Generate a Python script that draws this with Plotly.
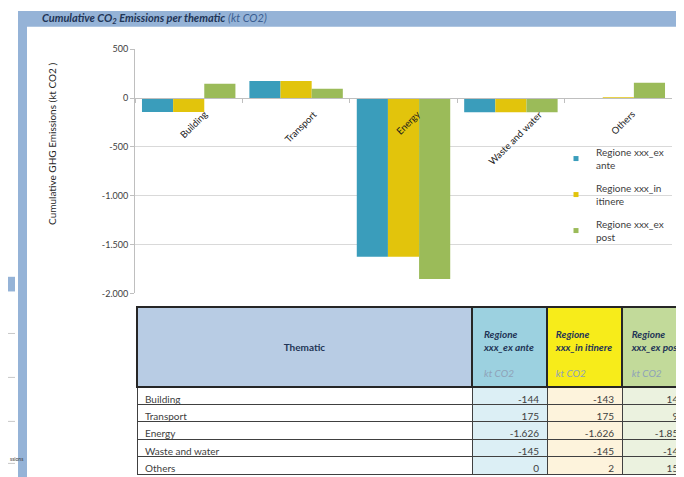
import plotly.graph_objects as go

# ---------------- data ----------------
categories = ["Building", "Transport", "Energy", "Waste and water", "Others"]
series_names = ["Regione xxx_ex ante", "Regione xxx_in itinere", "Regione xxx_ex post"]
legend_labels = ["Regione xxx_ex<br>ante", "Regione xxx_in<br>itinere", "Regione xxx_ex<br>post"]
ex_ante = [-144, 175, -1626, -145, 0]
in_itinere = [-143, 175, -1626, -145, 2]
ex_post = [145, 95, -1853, -145, 155]
y_tick_vals = [500, 0, -500, -1000, -1500, -2000]
y_tick_text = ["500", "0", "-500", "-1.000", "-1.500", "-2.000"]
table_header_thematic = "Thematic"
table_unit = "kt CO2"
chart_title = "Cumulative CO<sub>2</sub> Emissions per thematic"
chart_title_unit = "(kt CO2)"
y_title = "Cumulative GHG Emissions (kt CO2 )"

# ---------------- styling ----------------
W, H = 684, 477
OFF = 8  # page body margin offset
FONT = "Lato"
bar_colors = ["#3A9DBB", "#E2C40C", "#9BBB59"]
head_fills = ["#B8CCE4", "#9CD1E0", "#F7EC1A", "#C2DA9A"]
cell_fills = ["#FFFFFF", "#DCEFF5", "#FDF3DC", "#EBF2DF"]
frame_blue = "#95B3D7"


def px(x):
    return (x - OFF) / W


def py(y):
    return 1 - (y - OFF) / H


def fmt(v):
    s = f"{abs(v):,}".replace(",", ".")
    return ("-" if v < 0 else "") + s


def spacer(color):
    # invisible placeholder line (same colour as the cell fill)
    return f"<span style='color:{color}'>.</span>"


series_values = [ex_ante, in_itinere, ex_post]

fig = go.Figure()

# bars
for name, vals, col in zip(series_names, series_values, bar_colors):
    fig.add_trace(go.Bar(x=categories, y=vals, name=name, marker_color=col,
                         marker_line_width=0, showlegend=False))

# legend entries (small square markers like Excel)
for i, (lab, col) in enumerate(zip(legend_labels, bar_colors)):
    fig.add_trace(go.Scatter(x=[None], y=[None], mode="markers", name=lab,
                             legendgroup=f"g{i}",
                             marker=dict(symbol="square", size=5, color=col)))

ymin, ymax = -2000, 500
dom_y = [py(294), py(44)]
dom_x = [px(135), px(672)]
zero_pos = dom_y[0] + (0 - ymin) / (ymax - ymin) * (dom_y[1] - dom_y[0])

fig.update_layout(
    width=W, height=H,
    margin=dict(l=0, r=0, t=0, b=0),
    paper_bgcolor="white", plot_bgcolor="white",
    font=dict(family=FONT, size=9, color="#404040"),
    barmode="group", bargap=0.13, bargroupgap=0,
    xaxis=dict(domain=dom_x, anchor="free", position=zero_pos,
               showline=True, linecolor="#BFBFBF", linewidth=1,
               ticks="outside", tickson="boundaries", ticklen=4,
               tickcolor="#BFBFBF", showticklabels=False,
               showgrid=False, fixedrange=True),
    yaxis=dict(domain=dom_y, range=[ymin, ymax], tickvals=y_tick_vals,
               ticktext=y_tick_text, showline=True, linecolor="#BFBFBF",
               ticks="outside", ticklen=4, tickcolor="#BFBFBF",
               gridcolor="#D9D9D9", zeroline=False,
               tickfont=dict(family=FONT, size=9, color="#404040")),
    legend=dict(x=px(556), y=py(136), xanchor="left", yanchor="top",
                bgcolor="rgba(0,0,0,0)", font=dict(family=FONT, size=10, color="#404040"),
                tracegroupgap=7, traceorder="grouped"),
)

# category labels, Excel-style: rotated and centred under each category
for cat in categories:
    fig.add_annotation(xref="x", yref="y", x=cat, y=0, xanchor="center",
                       yanchor="top", showarrow=False, textangle=-45,
                       xshift=5, yshift=-8, text=cat,
                       font=dict(family=FONT, size=9.5, color="#1A1A1A"))

# frame: title bar and left strip
fig.add_shape(type="rect", xref="paper", yref="paper",
              x0=px(18), x1=1, y0=py(21), y1=py(5),
              fillcolor=frame_blue, line_width=0, layer="below")
fig.add_shape(type="rect", xref="paper", yref="paper",
              x0=px(18), x1=px(27), y0=0, y1=py(5),
              fillcolor=frame_blue, line_width=0, layer="below")
# spreadsheet remnants on far left
fig.add_shape(type="rect", xref="paper", yref="paper",
              x0=px(0), x1=px(15), y0=py(292), y1=py(277),
              fillcolor=frame_blue, line_width=0, layer="below")
for yy in (335, 380, 425, 468):
    fig.add_shape(type="line", xref="paper", yref="paper",
                  x0=px(0), x1=px(15), y0=py(yy), y1=py(yy),
                  line=dict(color="#C8C8C8", width=1))
fig.add_annotation(xref="paper", yref="paper", x=px(8), y=py(463), xanchor="left",
                   yanchor="middle", showarrow=False, text="ssions",
                   font=dict(family=FONT, size=5, color="#404040"))

# title
fig.add_annotation(xref="paper", yref="paper", x=px(40), y=py(13),
                   xanchor="left", yanchor="middle", showarrow=False,
                   text=f"<b><i>{chart_title}</i></b> "
                        f"<span style='color:#3B5E91'><i>{chart_title_unit}</i></span>",
                   font=dict(family=FONT, size=11, color="#1F3556"))

# y-axis title
fig.add_annotation(xref="paper", yref="paper", x=px(52), y=py(141),
                   xanchor="center", yanchor="middle", showarrow=False,
                   textangle=-90, text=y_title,
                   font=dict(family=FONT, size=10, color="#262626"))

# table
unit_span = f"<span style='color:#8FA3B8'><i>{table_unit}</i></span>"
header_vals = [f"{spacer(head_fills[0])}<br>{spacer(head_fills[0])}<br>"
               f"<b>{table_header_thematic}</b>"]
for nm, fc in zip(series_names, head_fills[1:]):
    first, rest = nm.split(" ", 1)
    header_vals.append(f"{spacer(fc)}<br><b><i>{first}</i></b><br><b><i>{rest}</i></b>"
                       f"<br>{spacer(fc)}<br>{unit_span}")

cell_vals = [categories] + [[fmt(v) for v in s] for s in series_values]

fig.add_trace(go.Table(
    domain=dict(x=[px(137), 1], y=[0, py(308)]),
    columnwidth=[335, 75, 75, 70],
    header=dict(values=header_vals, height=79,
                fill_color=head_fills, align="center",
                line=dict(color="#262626", width=2),
                font=dict(family=FONT, size=10, color="#1F3556")),
    cells=dict(values=cell_vals, height=17.4,
               fill_color=cell_fills, align=["left", "right", "right", "right"],
               line=dict(color="#404040", width=1),
               font=dict(family=FONT, size=10, color="#404040")),
))

fig.write_html("out.html")
